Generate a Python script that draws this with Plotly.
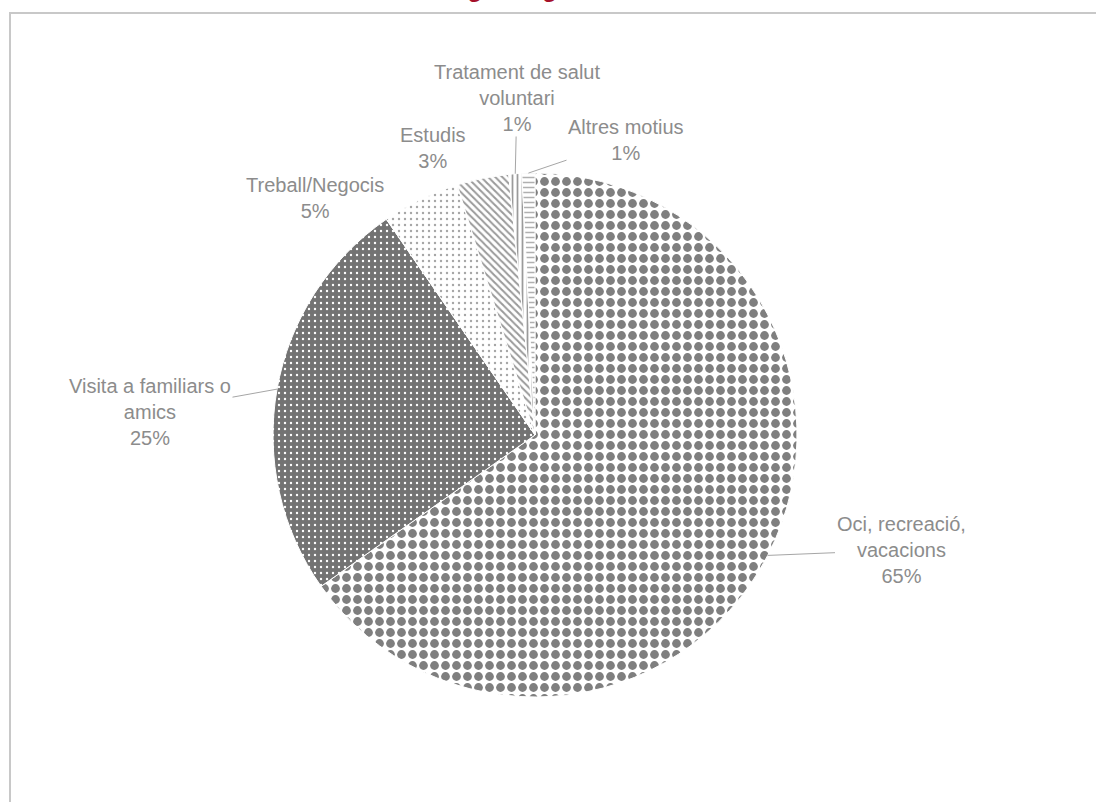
import numpy as np
import plotly.graph_objects as go

# ---------------- data ----------------
categories = ["Oci, recreació, vacacions", "Visita a familiars o amics", "Treball/Negocis",
              "Estudis", "Tratament de salut voluntari", "Altres motius"]
values = [65.2, 25.2, 4.8, 3.2, 0.8, 0.8]
label_lines = ["Oci, recreació,<br>vacacions", "Visita a familiars o<br>amics", "Treball/Negocis",
               "Estudis", "Tratament de salut<br>voluntari", "Altres motius"]
title_text = "Viatges segons motiu"

# ---------------- layout / style ----------------
W, H = 1096, 802
CX, CY, R = 535, 435, 262
label_pos = [(901, 550), (150, 412), (315, 198), (433, 148), (517, 98), (626, 140)]
show_leader = [True, True, False, False, True, True]

pat_shape = [".", ".", ".", "\\", "|", "-"]
pat_fg = ["#7f7f7f", "#ffffff", "#a6a6a6", "#9a9a9a", "#9a9a9a", "#b0b0b0"]
pat_bg = ["#ffffff", "#737373", "#ffffff", "#ffffff", "#ffffff", "#ffffff"]
pat_size = [11, 6, 6, 5, 5, 5]
pat_sol = [0.5, 0.12, 0.12, 0.4, 0.35, 0.3]
text_color = "#8c8c8c"
font_family = "Liberation Sans, Arial, sans-serif"
label_size = 20

fig = go.Figure()

fig.add_trace(go.Pie(
    labels=categories,
    values=values,
    sort=False,
    direction="clockwise",
    rotation=0,
    textinfo="none",
    hoverinfo="label+percent",
    showlegend=False,
    domain=dict(x=[(CX - R) / W, (CX + R) / W],
                y=[(H - CY - R) / H, (H - CY + R) / H]),
    marker=dict(
        colors=pat_bg,
        line=dict(color="white", width=1),
        pattern=dict(shape=pat_shape, fgcolor=pat_fg, bgcolor=pat_bg,
                     size=pat_size, solidity=pat_sol, fillmode="replace"),
    ),
))

# hidden pixel-space axes for labels and frame
fig.update_xaxes(range=[0, W], visible=False, fixedrange=True)
fig.update_yaxes(range=[H, 0], visible=False, fixedrange=True)

vals = np.array(values, dtype=float)
frac = vals / vals.sum()
cum = np.cumsum(frac)
mid = cum - frac / 2
annotations = []
for i, cat in enumerate(categories):
    ang = 2 * np.pi * mid[i]
    ex = CX + R * np.sin(ang)
    ey = CY - R * np.cos(ang)
    pct = f"{round(frac[i] * 100)}%"
    txt = f"{label_lines[i]}<br>{pct}"
    lx, ly = label_pos[i]
    if show_leader[i]:
        annotations.append(dict(
            x=ex, y=ey, xref="x", yref="y", ax=lx, ay=ly, axref="x", ayref="y",
            text=txt, showarrow=True, arrowhead=0, arrowwidth=1, arrowcolor="#a6a6a6",
            font=dict(size=label_size, color=text_color, family=font_family), align="center"))
    else:
        annotations.append(dict(
            x=lx, y=ly, xref="x", yref="y", text=txt, showarrow=False,
            font=dict(size=label_size, color=text_color, family=font_family), align="center"))

# title (mostly above the visible area, as in the reference)
annotations.append(dict(
    x=548, y=4, xref="x", yref="y", yanchor="bottom", xanchor="center",
    text=f"<b>{title_text}</b>", showarrow=False,
    font=dict(size=24, color="#a5112a", family=font_family)))

fig.update_layout(
    width=W, height=H,
    margin=dict(l=0, r=0, t=0, b=0),
    paper_bgcolor="white", plot_bgcolor="white",
    annotations=annotations,
    shapes=[dict(type="rect", xref="x", yref="y", x0=10, y0=13, x1=W + 50, y1=H + 50,
                 line=dict(color="#c8c8c8", width=2), fillcolor="rgba(0,0,0,0)", layer="below")],
)

fig.write_html("out.html", config={"displayModeBar": False},
               post_script="document.body.style.margin='0';")
